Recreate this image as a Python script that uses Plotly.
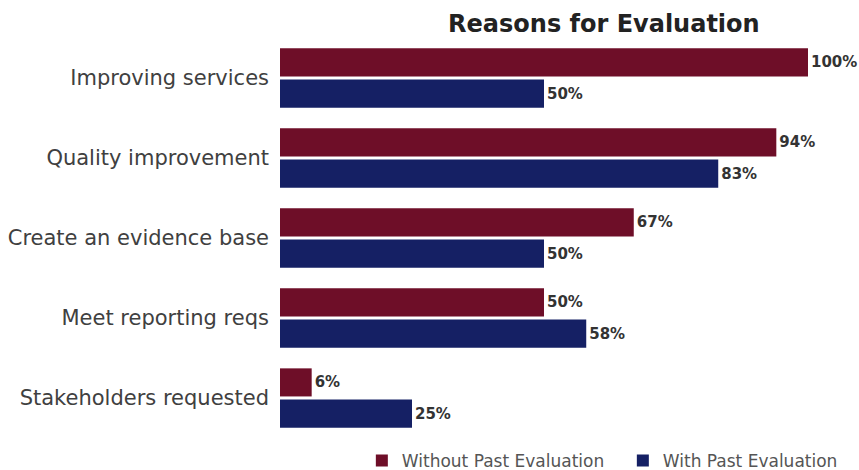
import plotly.graph_objects as go

categories = ["Improving services", "Quality improvement", "Create an evidence base",
              "Meet reporting reqs", "Stakeholders requested"]
without_past = [100, 94, 67, 50, 6]
with_past = [50, 83, 50, 58, 25]

series_names = ["Without Past Evaluation", "With Past Evaluation"]
colors = ["#6E0E28", "#152064"]
FONT = "DejaVu Sans"

fig = go.Figure()
for name, vals, col in zip(series_names, [without_past, with_past], colors):
    fig.add_trace(go.Bar(
        y=categories, x=vals, name=name, orientation="h",
        marker=dict(color=col, line=dict(width=0)),
        text=[f"{v}%" for v in vals], textposition="outside",
        textfont=dict(family=FONT, size=15, color="#333333", weight="bold"),
        cliponaxis=False,
    ))

fig.update_layout(
    width=859, height=470,
    margin=dict(l=280, r=51, t=38, b=32, autoexpand=False),
    paper_bgcolor="white", plot_bgcolor="white",
    barmode="group", bargap=0.22, bargroupgap=0.1,
    title=dict(text="<b>Reasons for Evaluation</b>", x=0.703, xanchor="center",
               y=0.95, yanchor="middle",
               font=dict(family=FONT, size=24, color="#222222")),
    xaxis=dict(range=[0, 100], visible=False),
    yaxis=dict(autorange="reversed", showgrid=False, zeroline=False, showline=False,
               ticks="", ticklabelstandoff=10,
               tickfont=dict(family=FONT, size=21, color="#404040")),
    legend=dict(orientation="h", x=0.155, xanchor="left", y=-0.0575, yanchor="middle",
                font=dict(family=FONT, size=17, color="#555555"),
                itemwidth=30, entrywidth=216, entrywidthmode="pixels",
                traceorder="normal"),
    font=dict(family=FONT),
)

fig.write_html("out.html")
